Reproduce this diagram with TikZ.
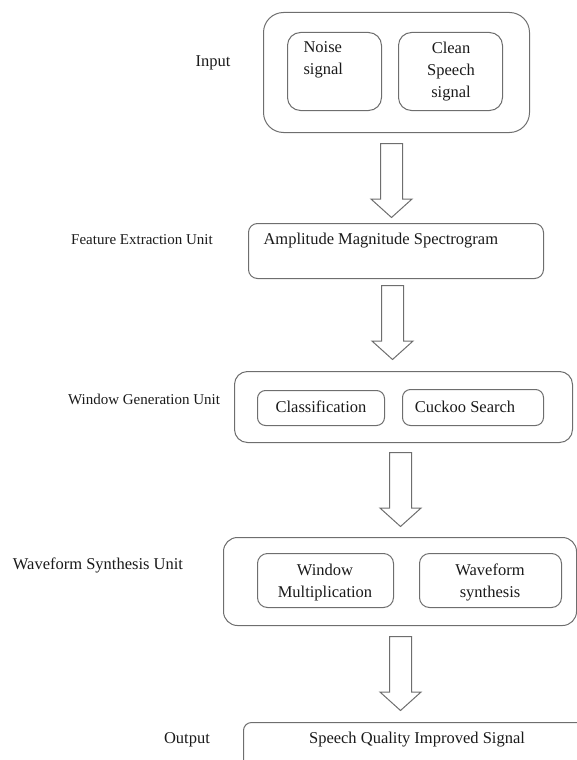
\documentclass[tikz,border=0pt]{standalone}
\usepackage{fontspec}
\setmainfont{Liberation Serif}
\usepackage{xcolor}
\usetikzlibrary{shapes.arrows}
\definecolor{edgegray}{HTML}{6E6E6E}
\definecolor{inkblack}{HTML}{1A1A1A}

\begin{document}
\begin{tikzpicture}[x=1pt, y=-1pt, line width=1pt,
  box/.style={draw=edgegray, rectangle, anchor=north west, inner sep=0pt},
  txt/.style={inner sep=0pt, text=inkblack, font=\fontsize{16.5}{22}\selectfont},
  unit/.style={inner sep=0pt, text=inkblack, font=\fontsize{15}{18}\selectfont},
  downarrow/.style={draw=edgegray, fill=white, single arrow, shape border rotate=270, anchor=tail, inner sep=10.5pt, minimum height=74pt, minimum width=40pt, single arrow head extend=9.5pt, single arrow tip angle=96}]
\useasboundingbox (0,0) rectangle (577,760);
\clip (0,0) rectangle (577,760);

% Input
\node[box, rounded corners=20pt, minimum width=266pt, minimum height=120pt] (input) at (263,12) {};
\node[box, rounded corners=13pt, minimum width=94pt, minimum height=78pt] (noise) at (287,32) {};
\node[box, rounded corners=13pt, minimum width=104pt, minimum height=78pt] (clean) at (398,32) {};
\node[txt, anchor=north west, align=left] (noisetxt) at (303,41) {Noise\\signal};
\node[txt, align=center] (cleantxt) at (451,72) {Clean\\Speech\\signal};
\node[txt] (inputlbl) at (213,63) {Input};

% Feature Extraction Unit
\node[box, rounded corners=9pt, minimum width=295pt, minimum height=55pt] (feature) at (248,223) {};
\node[txt, anchor=west] (amptxt) at (263,241) {Amplitude Magnitude Spectrogram};
\node[unit] (featlbl) at (142,240) {Feature Extraction Unit};

% Window Generation Unit
\node[box, rounded corners=13pt, minimum width=338pt, minimum height=71pt] (window) at (234,371) {};
\node[box, rounded corners=8pt, minimum width=127pt, minimum height=35pt] (classif) at (257,390) {};
\node[box, rounded corners=8pt, minimum width=141pt, minimum height=36pt] (cuckoo) at (402,389) {};
\node[txt] (classtxt) at (321,407) {Classification};
\node[txt] (cuckootxt) at (465,407) {Cuckoo Search};
\node[unit] (winlbl) at (144,399) {Window Generation Unit};

% Waveform Synthesis Unit
\node[box, rounded corners=14pt, minimum width=353pt, minimum height=88pt] (waveform) at (223,537) {};
\node[box, rounded corners=10pt, minimum width=136pt, minimum height=54pt] (winmult) at (257,553) {};
\node[box, rounded corners=10pt, minimum width=142pt, minimum height=54pt] (wavesyn) at (419,553) {};
\node[txt, align=center] (winmulttxt) at (325,582.5) {Window\\Multiplication};
\node[txt, align=center] (wavesyntxt) at (490,582.5) {Waveform\\synthesis};
\node[txt] (wavelbl) at (98,565) {Waveform Synthesis Unit};

% Output
\node[box, rounded corners=8pt, minimum width=400pt, minimum height=100pt] (output) at (243,722) {};
\node[txt] (outtxt) at (417,740) {Speech Quality Improved Signal};
\node[txt] (outlbl) at (187,740) {Output};

% Arrows
\node[downarrow] (a1) at (391.5,143) {};
\node[downarrow] (a2) at (392.5,285) {};
\node[downarrow] (a3) at (400.5,452) {};
\node[downarrow] (a4) at (400.5,636) {};
\end{tikzpicture}
\end{document}
